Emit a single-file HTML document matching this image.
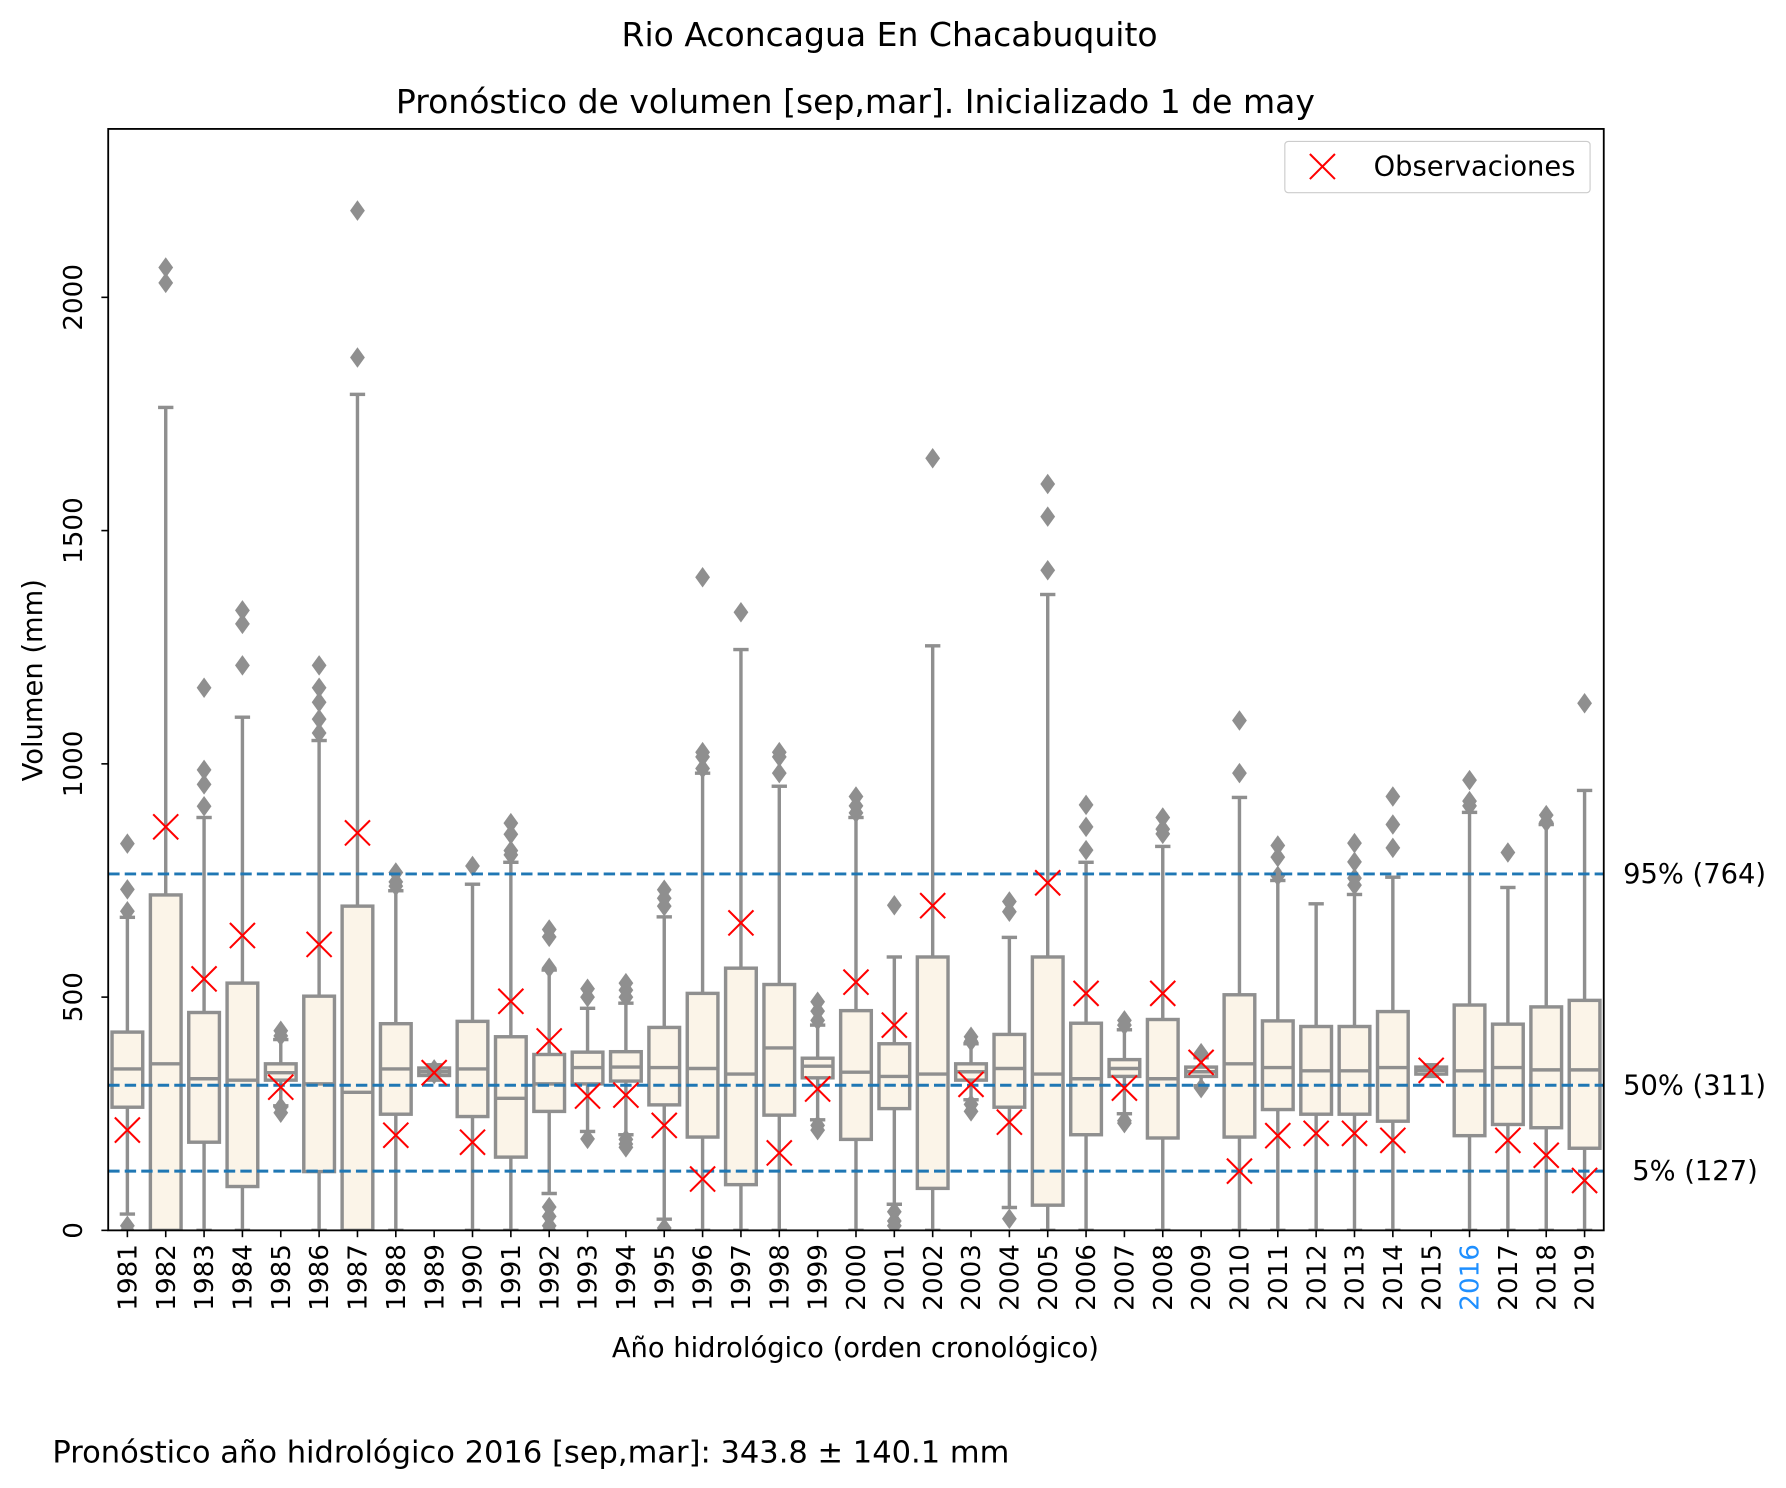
<!DOCTYPE html>
<html><head><meta charset="utf-8"><style>
html,body{margin:0;padding:0;background:#fff;}
svg{display:block;font-family:"DejaVu Sans","Liberation Sans",sans-serif;}
</style></head><body>
<svg id="chart" width="1786" height="1488" viewBox="0 0 1568 1306" xmlns="http://www.w3.org/2000/svg">
<text x="781" y="40" font-size="29" text-anchor="middle">Rio Aconcagua En Chacabuquito</text>
<text x="751" y="99" font-size="29" text-anchor="middle">Pronóstico de volumen [sep,mar]. Inicializado 1 de may</text>
<g id="plot"></g>
<rect x="95" y="113" width="1313" height="967" fill="none" stroke="#000" stroke-width="1.6"/>
<g>
<rect x="1128" y="124" width="268" height="45" rx="3" fill="#fff" stroke="#ccc"/>
<g stroke="red" stroke-width="1.8"><line x1="1150" y1="135" x2="1172" y2="157"/><line x1="1150" y1="157" x2="1172" y2="135"/></g>
<text x="1206" y="154" font-size="24">Observaciones</text>
</g>
<text transform="translate(37,597) rotate(-90)" font-size="24" text-anchor="middle">Volumen (mm)</text>
<text x="751" y="1191" font-size="24" text-anchor="middle">Año hidrológico (orden cronológico)</text>
<text x="46" y="1284" font-size="26.8">Pronóstico año hidrológico 2016 [sep,mar]: 343.8 ± 140.1 mm</text>
</svg>
<script>
const years=[1981,1982,1983,1984,1985,1986,1987,1988,1989,1990,1991,1992,1993,1994,1995,1996,1997,1998,1999,2000,2001,2002,2003,2004,2005,2006,2007,2008,2009,2010,2011,2012,2013,2014,2015,2016,2017,2018,2019];
const q1=[264,0,189,94,322,126,0,249,332,244,157,255,314,320,269,200,98,247,327,195,261,90,322,264,54,205,330,198,330,200,259,249,249,234,335,203,227,220,176];
const med=[346,357,325,322,338,314,296,346,340,346,283,314,349,350,349,347,335,391,352,339,330,335,340,347,335,325,347,325,340,357,349,342,342,349,343,342,349,344,344];
const q3=[425,719,467,530,357,502,695,443,348,448,415,377,382,383,435,508,562,527,369,471,400,586,357,420,586,444,366,452,350,505,449,437,437,469,350,483,442,479,493];
const wlo=[35,0,0,0,267,0,0,0,322,0,0,79,212,205,24,0,0,0,237,0,56,0,280,49,0,0,250,0,310,0,0,0,0,0,330,0,0,0,0];
const whi=[671,1764,885,1100,409,1050,1792,728,355,742,789,558,476,487,672,980,1245,952,440,885,586,1253,400,628,1363,789,430,823,370,928,750,700,720,757,355,896,735,870,943];
const fliers=[[829,731,684,10,0],[2064,2031],[1163,987,956,909],[1329,1300,1211],[428,417,252,264],[1211,1163,1132,1096,1066],[2186,1871],[767,747,738],[345,335],[781],[873,849,814,805],[645,629,563,50,30,10,0],[518,500,196],[530,515,500,195,185,178],[730,712,695,5,0],[1400,1025,1015,990],[1325],[1025,1015,980],[490,470,450,225,215],[930,910,895],[697,40,20,10],[1655],[415,405,270,255],[705,683,25],[1600,1530,1415],[912,865,815],[450,440,235,230],[885,860,850],[380,305],[1093,980],[825,800,760],[],[830,790,755,740],[930,870,820],[],[965,920,910],[810],[890,875],[1130]];
const obs=[215,865,539,632,307,613,852,204,338,189,491,406,288,290,225,110,659,166,303,532,440,696,313,232,745,508,305,508,360,127,203,208,208,193,343,null,193,161,107];
const refVals=[764,311,127];
const refLabels=["95% (764)","50% (311)","5% (127)"];
const yTicks=[0,500,1000,1500,2000];

const NS="http://www.w3.org/2000/svg";
const svg=document.getElementById('chart');
const plot=document.getElementById('plot');
const X0=95,X1=1408,Y0=1080,YT=113,YMAX=2361;
const step=(X1-X0)/years.length;
function xs(i){return X0+step*(i+0.5);}
function ys(v){return Y0-(v/YMAX)*(Y0-YT);}
function mk(tag,attrs,parent){const e=document.createElementNS(NS,tag);for(const k in attrs)e.setAttribute(k,attrs[k]);(parent||plot).appendChild(e);return e;}
const gray="#8f8f8f",bw=step*0.8,cw=bw*0.5,lw=3;
const clip=mk('clipPath',{id:'pc'},svg);mk('rect',{x:X0,y:YT,width:X1-X0,height:Y0-YT},clip);
plot.setAttribute('clip-path','url(#pc)');
years.forEach((yr,i)=>{
  const cx=xs(i);
  const g=mk('g',{});
  
  
  mk('line',{x1:cx,x2:cx,y1:ys(q3[i]),y2:ys(whi[i]),stroke:gray,'stroke-width':lw},g);
  mk('line',{x1:cx,x2:cx,y1:ys(q1[i]),y2:ys(wlo[i]),stroke:gray,'stroke-width':lw},g);
  mk('line',{x1:cx-cw/2,x2:cx+cw/2,y1:ys(whi[i]),y2:ys(whi[i]),stroke:gray,'stroke-width':lw},g);
  mk('line',{x1:cx-cw/2,x2:cx+cw/2,y1:ys(wlo[i]),y2:ys(wlo[i]),stroke:gray,'stroke-width':lw},g);
  const r=mk('rect',{x:cx-bw/2,y:ys(q3[i]),width:bw,height:Math.max(ys(q1[i])-ys(q3[i]),1),fill:"#fbf4e8",stroke:gray,'stroke-width':lw},g);
  
  
  mk('line',{x1:cx-bw/2,x2:cx+bw/2,y1:ys(med[i]),y2:ys(med[i]),stroke:gray,'stroke-width':lw},g);
  fliers[i].forEach(v=>{
    const y=ys(v);
    const d=mk('polygon',{points:`${cx},${y-9} ${cx+6.5},${y} ${cx},${y+9} ${cx-6.5},${y}`,fill:gray},g);
    
    
  });
});
refVals.forEach((v,k)=>{
  const ln=mk('line',{x1:X0,x2:X1,y1:ys(v),y2:ys(v),stroke:"#1f77b4",'stroke-width':2.6,'stroke-dasharray':'10,4.5'});
  
  
  const t=mk('text',{x:k==2?1433:1425,y:ys(v)+8,'font-size':24},svg);
  t.textContent=refLabels[k];
  
  
});
years.forEach((yr,i)=>{
  if(obs[i]===null)return;
  const cx=xs(i),y=ys(obs[i]),s=11;
  const g=mk('g',{stroke:'red','stroke-width':1.8});
  
  
  mk('line',{x1:cx-s,y1:y-s,x2:cx+s,y2:y+s},g);
  mk('line',{x1:cx-s,y1:y+s,x2:cx+s,y2:y-s},g);
});
years.forEach((yr,i)=>{
  const cx=xs(i);
  mk('line',{x1:cx,x2:cx,y1:Y0,y2:Y0+6,stroke:'#000','stroke-width':1.4},svg);
  const t=mk('text',{transform:`translate(${cx+8},${Y0+12}) rotate(-90)`,'font-size':23,'text-anchor':'end',fill:yr===2016?'#1e8fff':'#000'},svg);
  t.textContent=yr;
  
  
});
yTicks.forEach(v=>{
  const y=ys(v);
  mk('line',{x1:X0-6,x2:X0,y1:y,y2:y,stroke:'#000','stroke-width':1.4},svg);
  const t=mk('text',{transform:`translate(${X0-23},${y}) rotate(-90)`,'font-size':23,'text-anchor':'middle'},svg);
  t.textContent=v;
  
  
});
</script>
</body></html>
